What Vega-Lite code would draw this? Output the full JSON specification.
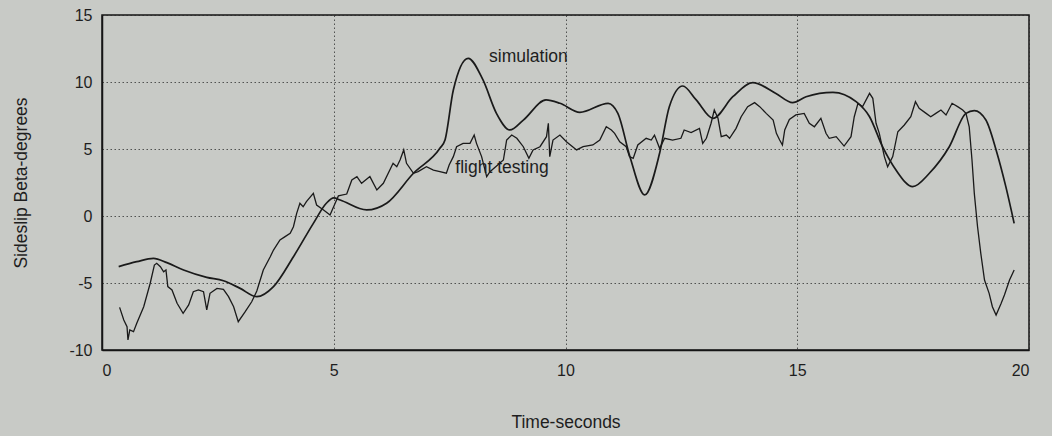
{
  "$schema": "https://vega.github.io/schema/vega-lite/v6.json",
  "width": 927,
  "height": 335,
  "autosize": "none",
  "padding": {"left": 102, "top": 15, "right": 23, "bottom": 86},
  "background": "#c8cac6",
  "config": {
    "font": "Liberation Sans",
    "view": {"stroke": "#151515", "strokeWidth": 1.5},
    "axis": {
      "grid": true,
      "gridColor": "#2a2a2a",
      "gridDash": [1.5, 2.5],
      "gridWidth": 1,
      "gridOpacity": 0.75,
      "domainColor": "#151515",
      "domainWidth": 1.5,
      "ticks": false,
      "labelFont": "Liberation Sans",
      "labelFontSize": 16,
      "labelColor": "#1e1e1e",
      "labelExpr": "replace(datum.label, '\u2212', '-')",
      "titleFont": "Liberation Sans",
      "titleFontSize": 17.5,
      "titleFontWeight": "normal",
      "titleColor": "#1e1e1e"
    }
  },
  "datasets": {
    "simulation": [
      {"t": 0.36, "beta": -3.78}, {"t": 0.75, "beta": -3.41}, {"t": 1.11, "beta": -3.16},
      {"t": 1.40, "beta": -3.48}, {"t": 1.76, "beta": -4.03}, {"t": 2.26, "beta": -4.58},
      {"t": 2.62, "beta": -4.83}, {"t": 2.98, "beta": -5.4}, {"t": 3.34, "beta": -6.02},
      {"t": 3.70, "beta": -5.27}, {"t": 4.13, "beta": -3.04}, {"t": 4.56, "beta": -0.55},
      {"t": 4.84, "beta": 0.95}, {"t": 5.0, "beta": 1.35}, {"t": 5.14, "beta": 1.19},
      {"t": 5.71, "beta": 0.45}, {"t": 6.14, "beta": 0.95}, {"t": 6.72, "beta": 3.19},
      {"t": 7.29, "beta": 5.05}, {"t": 7.40, "beta": 5.67}, {"t": 7.58, "beta": 9.4},
      {"t": 7.9, "beta": 11.77}, {"t": 8.22, "beta": 10.15}, {"t": 8.51, "beta": 7.66},
      {"t": 8.80, "beta": 6.42}, {"t": 9.09, "beta": 7.16}, {"t": 9.58, "beta": 8.66},
      {"t": 9.88, "beta": 8.41}, {"t": 10.31, "beta": 7.74}, {"t": 10.92, "beta": 8.41},
      {"t": 11.13, "beta": 7.66}, {"t": 11.39, "beta": 4.43}, {"t": 11.71, "beta": 1.57},
      {"t": 12.03, "beta": 4.68}, {"t": 12.24, "beta": 8.16}, {"t": 12.53, "beta": 9.7},
      {"t": 12.82, "beta": 8.66}, {"t": 13.18, "beta": 7.29}, {"t": 13.61, "beta": 8.9},
      {"t": 14.04, "beta": 9.95}, {"t": 14.54, "beta": 9.15}, {"t": 14.90, "beta": 8.46},
      {"t": 15.19, "beta": 8.9}, {"t": 15.77, "beta": 9.23}, {"t": 16.27, "beta": 8.53},
      {"t": 16.56, "beta": 7.41}, {"t": 16.84, "beta": 5.17}, {"t": 17.13, "beta": 3.43},
      {"t": 17.49, "beta": 2.19}, {"t": 17.85, "beta": 3.19}, {"t": 18.28, "beta": 5.17},
      {"t": 18.64, "beta": 7.66}, {"t": 18.82, "beta": 7.86}, {"t": 19.07, "beta": 7.16},
      {"t": 19.29, "beta": 4.93}, {"t": 19.5, "beta": 2.19}, {"t": 19.68, "beta": -0.55}
    ],
    "flight": [
      {"t": 0.38, "beta": -6.82}, {"t": 0.47, "beta": -7.76}, {"t": 0.54, "beta": -8.26},
      {"t": 0.56, "beta": -9.25}, {"t": 0.60, "beta": -8.5}, {"t": 0.68, "beta": -8.63},
      {"t": 0.75, "beta": -8.0}, {"t": 0.90, "beta": -6.77}, {"t": 1.04, "beta": -5.02},
      {"t": 1.13, "beta": -3.66}, {"t": 1.18, "beta": -3.53}, {"t": 1.26, "beta": -3.78},
      {"t": 1.33, "beta": -4.16}, {"t": 1.38, "beta": -4.03}, {"t": 1.42, "beta": -5.27},
      {"t": 1.51, "beta": -5.52}, {"t": 1.62, "beta": -6.51}, {"t": 1.75, "beta": -7.26},
      {"t": 1.87, "beta": -6.64}, {"t": 1.97, "beta": -5.65}, {"t": 2.08, "beta": -5.52},
      {"t": 2.19, "beta": -5.65}, {"t": 2.26, "beta": -7.01}, {"t": 2.33, "beta": -5.77},
      {"t": 2.48, "beta": -5.4}, {"t": 2.62, "beta": -5.47}, {"t": 2.73, "beta": -6.02},
      {"t": 2.84, "beta": -6.77}, {"t": 2.94, "beta": -7.89}, {"t": 3.09, "beta": -7.14},
      {"t": 3.23, "beta": -6.4}, {"t": 3.34, "beta": -5.6}, {"t": 3.48, "beta": -4.03},
      {"t": 3.63, "beta": -3.04}, {"t": 3.70, "beta": -2.54}, {"t": 3.84, "beta": -1.79},
      {"t": 3.95, "beta": -1.54}, {"t": 4.06, "beta": -1.29}, {"t": 4.13, "beta": -0.8},
      {"t": 4.20, "beta": 0.2}, {"t": 4.27, "beta": 0.95}, {"t": 4.34, "beta": 0.69},
      {"t": 4.41, "beta": 1.07}, {"t": 4.56, "beta": 1.69}, {"t": 4.63, "beta": 0.82},
      {"t": 4.78, "beta": 0.45}, {"t": 4.92, "beta": 0.07}, {"t": 5.03, "beta": 0.95},
      {"t": 5.10, "beta": 1.5}, {"t": 5.28, "beta": 1.64}, {"t": 5.39, "beta": 2.69},
      {"t": 5.50, "beta": 2.94}, {"t": 5.60, "beta": 2.44}, {"t": 5.78, "beta": 2.94},
      {"t": 5.93, "beta": 1.94}, {"t": 6.07, "beta": 2.44}, {"t": 6.28, "beta": 3.93},
      {"t": 6.36, "beta": 3.68}, {"t": 6.43, "beta": 4.18}, {"t": 6.51, "beta": 4.93},
      {"t": 6.57, "beta": 3.93}, {"t": 6.72, "beta": 3.19}, {"t": 6.82, "beta": 3.31},
      {"t": 7.0, "beta": 3.68}, {"t": 7.15, "beta": 3.43}, {"t": 7.29, "beta": 3.31},
      {"t": 7.43, "beta": 3.19}, {"t": 7.49, "beta": 3.81}, {"t": 7.58, "beta": 4.43},
      {"t": 7.65, "beta": 5.17}, {"t": 7.79, "beta": 5.42}, {"t": 7.94, "beta": 5.42},
      {"t": 8.03, "beta": 6.04}, {"t": 8.08, "beta": 5.42}, {"t": 8.19, "beta": 4.43},
      {"t": 8.30, "beta": 2.94}, {"t": 8.37, "beta": 3.31}, {"t": 8.5, "beta": 3.7},
      {"t": 8.66, "beta": 4.18}, {"t": 8.73, "beta": 5.67}, {"t": 8.84, "beta": 6.04},
      {"t": 8.95, "beta": 5.8}, {"t": 9.09, "beta": 5.17}, {"t": 9.21, "beta": 4.3},
      {"t": 9.30, "beta": 4.93}, {"t": 9.45, "beta": 5.17}, {"t": 9.59, "beta": 5.92},
      {"t": 9.63, "beta": 6.92}, {"t": 9.66, "beta": 4.43}, {"t": 9.73, "beta": 5.67},
      {"t": 9.88, "beta": 6.04}, {"t": 10.02, "beta": 5.54}, {"t": 10.24, "beta": 4.93},
      {"t": 10.38, "beta": 5.17}, {"t": 10.59, "beta": 5.3}, {"t": 10.74, "beta": 5.67},
      {"t": 10.88, "beta": 6.66}, {"t": 10.99, "beta": 6.42}, {"t": 11.06, "beta": 6.17},
      {"t": 11.17, "beta": 5.54}, {"t": 11.31, "beta": 5.17}, {"t": 11.38, "beta": 4.43},
      {"t": 11.46, "beta": 4.3}, {"t": 11.56, "beta": 5.3}, {"t": 11.74, "beta": 5.8},
      {"t": 11.85, "beta": 5.67}, {"t": 11.92, "beta": 6.04}, {"t": 12.03, "beta": 5.05},
      {"t": 12.14, "beta": 5.8}, {"t": 12.31, "beta": 5.67}, {"t": 12.49, "beta": 5.8},
      {"t": 12.56, "beta": 6.42}, {"t": 12.71, "beta": 6.22}, {"t": 12.89, "beta": 6.54},
      {"t": 12.96, "beta": 5.42}, {"t": 13.04, "beta": 5.8}, {"t": 13.14, "beta": 6.92},
      {"t": 13.21, "beta": 7.91}, {"t": 13.29, "beta": 7.29}, {"t": 13.36, "beta": 5.92},
      {"t": 13.47, "beta": 6.04}, {"t": 13.54, "beta": 5.8}, {"t": 13.68, "beta": 6.54},
      {"t": 13.79, "beta": 7.41}, {"t": 13.93, "beta": 8.16}, {"t": 14.08, "beta": 8.46},
      {"t": 14.19, "beta": 8.16}, {"t": 14.33, "beta": 7.66}, {"t": 14.48, "beta": 7.16},
      {"t": 14.55, "beta": 6.17}, {"t": 14.62, "beta": 5.67}, {"t": 14.68, "beta": 5.3},
      {"t": 14.73, "beta": 6.42}, {"t": 14.83, "beta": 7.2}, {"t": 14.97, "beta": 7.54},
      {"t": 15.15, "beta": 7.66}, {"t": 15.26, "beta": 6.92}, {"t": 15.37, "beta": 6.66},
      {"t": 15.51, "beta": 7.29}, {"t": 15.62, "beta": 6.17}, {"t": 15.69, "beta": 5.8},
      {"t": 15.84, "beta": 5.92}, {"t": 16.01, "beta": 5.22}, {"t": 16.16, "beta": 5.92},
      {"t": 16.23, "beta": 7.41}, {"t": 16.31, "beta": 8.41}, {"t": 16.41, "beta": 8.16},
      {"t": 16.56, "beta": 9.15}, {"t": 16.63, "beta": 8.78}, {"t": 16.70, "beta": 6.92},
      {"t": 16.77, "beta": 6.17}, {"t": 16.88, "beta": 4.43}, {"t": 16.95, "beta": 3.68},
      {"t": 17.06, "beta": 4.43}, {"t": 17.17, "beta": 6.29}, {"t": 17.31, "beta": 6.79},
      {"t": 17.45, "beta": 7.41}, {"t": 17.55, "beta": 8.53}, {"t": 17.63, "beta": 8.03},
      {"t": 17.78, "beta": 7.66}, {"t": 17.88, "beta": 7.41}, {"t": 17.99, "beta": 7.66},
      {"t": 18.10, "beta": 7.91}, {"t": 18.21, "beta": 7.54}, {"t": 18.34, "beta": 8.41},
      {"t": 18.46, "beta": 8.16}, {"t": 18.57, "beta": 7.91}, {"t": 18.64, "beta": 7.66},
      {"t": 18.71, "beta": 6.66}, {"t": 18.77, "beta": 4.18}, {"t": 18.82, "beta": 1.69},
      {"t": 18.89, "beta": -0.8}, {"t": 18.96, "beta": -2.79}, {"t": 19.04, "beta": -4.78},
      {"t": 19.14, "beta": -5.77}, {"t": 19.21, "beta": -6.77}, {"t": 19.29, "beta": -7.39},
      {"t": 19.40, "beta": -6.51}, {"t": 19.47, "beta": -5.9}, {"t": 19.58, "beta": -4.78},
      {"t": 19.68, "beta": -4.03}
    ],
    "labels": [
      {"t": 9.2, "beta": 11.9, "name": "simulation"},
      {"t": 8.63, "beta": 3.6, "name": "flight testing"}
    ]
  },
  "encoding": {
    "x": {
      "field": "t",
      "type": "quantitative",
      "title": "Time-seconds",
      "scale": {"domain": [0, 20], "nice": false, "zero": false},
      "axis": {"values": [0, 5, 10, 15, 20], "labelPadding": 12, "titlePadding": 35}
    },
    "y": {
      "field": "beta",
      "type": "quantitative",
      "title": "Sideslip Beta-degrees",
      "scale": {"domain": [-10, 15], "nice": false, "zero": false},
      "axis": {"values": [-10, -5, 0, 5, 10, 15], "labelPadding": 10, "titlePadding": 38}
    }
  },
  "layer": [
    {
      "data": {"name": "flight"},
      "mark": {"type": "line", "color": "#1a1a1a", "strokeWidth": 1.3}
    },
    {
      "data": {"name": "simulation"},
      "mark": {"type": "line", "color": "#1a1a1a", "strokeWidth": 1.7, "interpolate": "monotone"}
    },
    {
      "data": {"name": "labels"},
      "mark": {"type": "text", "font": "Liberation Sans", "fontSize": 17.5, "color": "#1e1e1e", "align": "center", "baseline": "middle"},
      "encoding": {"text": {"field": "name", "type": "nominal"}}
    }
  ]
}
